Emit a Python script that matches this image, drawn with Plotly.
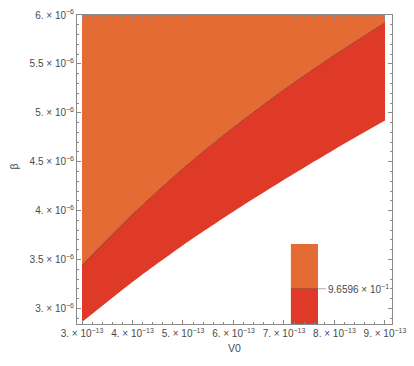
import plotly.graph_objects as go

# V0 sample positions
v0 = [3e-13, 4e-13, 5e-13, 6e-13, 7e-13, 8e-13, 9e-13]
# upper boundary of the red band (orange above it)
beta_upper = [3.44e-6, 3.96e-6, 4.43e-6, 4.85e-6, 5.235e-6, 5.59e-6, 5.92e-6]
# lower boundary of the red band (white below it)
beta_lower = [2.86e-6, 3.27e-6, 3.645e-6, 3.99e-6, 4.315e-6, 4.625e-6, 4.92e-6]
beta_top = [6e-6] * len(v0)

contour_level = "9.6596 × 10<sup>−1</sup>"

x_tickvals = [3e-13, 4e-13, 5e-13, 6e-13, 7e-13, 8e-13, 9e-13]
x_ticktext = ["3. × 10<sup>−13</sup>", "4. × 10<sup>−13</sup>", "5. × 10<sup>−13</sup>",
              "6. × 10<sup>−13</sup>", "7. × 10<sup>−13</sup>", "8. × 10<sup>−13</sup>",
              "9. × 10<sup>−13</sup>"]
y_tickvals = [3e-6, 3.5e-6, 4e-6, 4.5e-6, 5e-6, 5.5e-6, 6e-6]
y_ticktext = ["3. × 10<sup>−6</sup>", "3.5 × 10<sup>−6</sup>", "4. × 10<sup>−6</sup>",
              "4.5 × 10<sup>−6</sup>", "5. × 10<sup>−6</sup>", "5.5 × 10<sup>−6</sup>",
              "6. × 10<sup>−6</sup>"]

ORANGE = "#E46B33"
RED = "#DF3A27"
EDGE = "#A3402B"
GRAY = "#8a8a8a"
TXT = "#4a4a4a"
FONT = "Liberation Sans"

fig = go.Figure()
fig.add_trace(go.Scatter(x=v0, y=beta_lower, mode="lines",
                         line=dict(width=0, color=RED, shape="spline", smoothing=0.7),
                         hoverinfo="skip", showlegend=False))
fig.add_trace(go.Scatter(x=v0, y=beta_upper, mode="lines", fill="tonexty", fillcolor=RED,
                         line=dict(width=1, color=EDGE, shape="spline", smoothing=0.7), showlegend=False))
fig.add_trace(go.Scatter(x=v0, y=beta_top, mode="lines", fill="tonexty", fillcolor=ORANGE,
                         line=dict(width=0, color=ORANGE), showlegend=False))

axis_common = dict(showgrid=False, zeroline=False, showline=True, linecolor=GRAY, linewidth=1,
                   mirror="ticks", ticks="inside", ticklen=4, tickcolor=GRAY,
                   tickfont=dict(family=FONT, size=10, color=TXT))

fig.update_layout(
    width=414, height=366,
    margin=dict(l=77, r=22, t=8, b=42),
    paper_bgcolor="white", plot_bgcolor="white",
    xaxis=dict(range=[2.901e-13, 9.139e-13], tickvals=x_tickvals, ticktext=x_ticktext,
               minor=dict(ticks="inside", ticklen=2, tickcolor=GRAY, dtick=2e-14), **axis_common),
    yaxis=dict(range=[2.84e-6, 6e-6], tickvals=y_tickvals, ticktext=y_ticktext,
               minor=dict(ticks="inside", ticklen=2, tickcolor=GRAY, dtick=1e-7), **axis_common),
    font=dict(family=FONT, color=TXT),
)

# contour legend swatch
fig.add_shape(type="rect", xref="paper", yref="paper", x0=0.679, x1=0.765, y0=0.114, y1=0.259,
              fillcolor=ORANGE, line=dict(width=0), layer="below")
fig.add_shape(type="rect", xref="paper", yref="paper", x0=0.679, x1=0.765, y0=0.0, y1=0.114,
              fillcolor=RED, line=dict(width=0), layer="below")
fig.add_shape(type="line", xref="paper", yref="paper", x0=0.679, x1=0.765, y0=0.114, y1=0.114,
              line=dict(width=1, color=EDGE))
fig.add_shape(type="line", xref="paper", yref="paper", x0=0.765, x1=0.79, y0=0.114, y1=0.114,
              line=dict(width=1, color="#aaaaaa"))
fig.add_annotation(xref="paper", yref="paper", x=0.792, y=0.114, text=contour_level, showarrow=False,
                   xanchor="left", yanchor="middle", font=dict(size=10, color=TXT, family=FONT))

# axis titles
fig.add_annotation(xref="paper", yref="paper", x=0.5, y=-0.078, text="V0", showarrow=False,
                   xanchor="center", yanchor="middle", font=dict(size=10.5, color=TXT, family=FONT))
fig.add_annotation(xref="paper", yref="paper", x=-0.2, y=0.51, text="β", showarrow=False, textangle=-90,
                   xanchor="center", yanchor="middle", font=dict(size=10.5, color=TXT, family=FONT))

fig.write_html("out.html", config={"displayModeBar": False},
               post_script="document.body.style.margin='0';")
